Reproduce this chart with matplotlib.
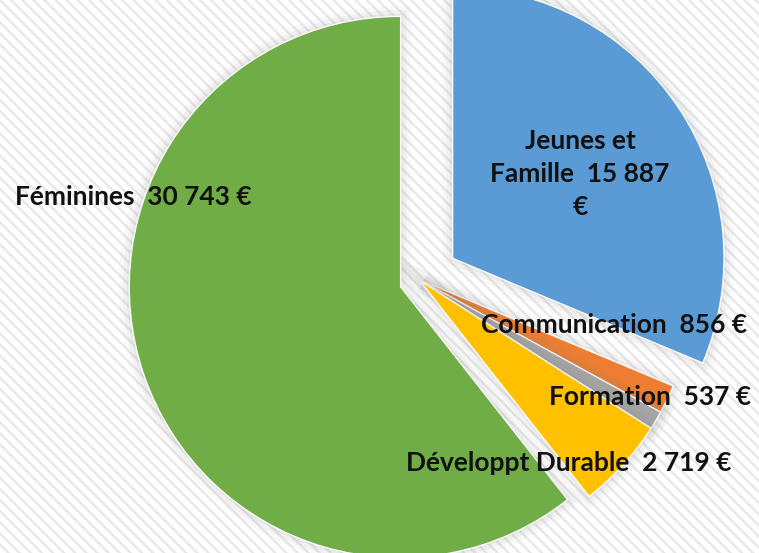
import matplotlib
matplotlib.use("Agg")
import matplotlib.pyplot as plt
import matplotlib.patheffects as pe
from matplotlib.patches import Rectangle

# ---- Data ----
categories = ["Jeunes et Famille", "Communication", "Formation", "Développt Durable", "Féminines"]
values = [15887, 856, 537, 2719, 30743]
colors = ["#5B9BD5", "#ED7D31", "#A5A5A5", "#FFC000", "#70AD47"]
explode = [0.15, 0.015, 0.015, 0.015, 0.077]   # fraction of radius

# label text and layout (pixel coords, y from top)
label_texts = ["Jeunes et\nFamille  {}\n€", "Communication  {} €", "Formation  {} €",
               "Développt Durable  {} €", "Féminines  {} €"]
label_pos = [(580, 174), (614, 325), (650, 397), (569, 463), (133, 197)]

W, H = 759, 553
R = 270
plt.rcParams['hatch.linewidth'] = 1.8
plt.rcParams['font.family'] = ['Lato', 'DejaVu Sans']

fig = plt.figure(figsize=(W / 100, H / 100), dpi=100)
ax = fig.add_axes([0, 0, 1, 1])

# striped background
ax.add_patch(Rectangle((0, 0), W, H, facecolor="white", edgecolor="#e9e9e9",
                       hatch="\\\\\\", lw=0, zorder=0))

glow = [pe.Stroke(linewidth=16, foreground="#7f7f7f", alpha=0.04),
        pe.Stroke(linewidth=10, foreground="#7f7f7f", alpha=0.06),
        pe.Stroke(linewidth=5, foreground="#7f7f7f", alpha=0.08),
        pe.Stroke(linewidth=2, foreground="white", alpha=0.9),
        pe.Normal()]

# matplotlib's explode is in data units, so scale by the radius
wedges, _ = ax.pie(values, colors=colors, explode=[e * R for e in explode], startangle=90,
                   counterclock=False, radius=R, center=(419.6, H - 280.3),
                   frame=True, wedgeprops=dict(edgecolor="none", linewidth=0))
for w in wedges:
    w.set_path_effects(glow)
    w.set_zorder(2)

for txt, v, (x, y) in zip(label_texts, values, label_pos):
    s = txt.format(f"{v:,}".replace(",", " "))
    ax.text(x, H - y, s, ha="center", va="center", fontsize=19, fontweight="bold",
            color="#111111", linespacing=1.45, zorder=5)

ax.set_xlim(0, W)
ax.set_ylim(0, H)
ax.set_aspect("equal")
ax.axis("off")

fig.savefig("out.png", dpi=100)
